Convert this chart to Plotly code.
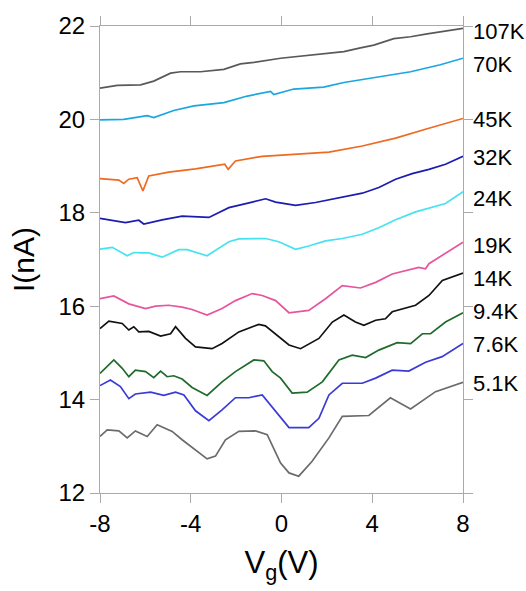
import plotly.graph_objects as go

# ---- data ----
temps = ["107K", "70K", "45K", "32K", "24K", "19K", "14K", "9.4K", "7.6K", "5.1K"]
label_y = [21.88, 21.17, 19.99, 19.18, 18.30, 17.31, 16.59, 15.89, 15.17, 14.35]

vg_107 = [-8, -7.24, -6.21, -5.63, -4.89, -4.45, -3.57, -2.54, -1.81, -1.22, -0.04, 0.54, 1.72, 2.75, 3.48, 4.07, 4.95, 5.69, 6.42, 7.16, 8]
i_107 = [20.67, 20.73, 20.74, 20.82, 20.99, 21.02, 21.02, 21.07, 21.19, 21.22, 21.31, 21.34, 21.41, 21.45, 21.53, 21.59, 21.73, 21.77, 21.83, 21.88, 21.95]

vg_70 = [-8, -6.95, -5.92, -5.63, -4.75, -3.86, -2.54, -1.51, -0.48, -0.34, 0.54, 1.86, 2.75, 4.22, 5.69, 7.0, 8]
i_70 = [19.99, 20.0, 20.08, 20.04, 20.19, 20.29, 20.36, 20.5, 20.6, 20.53, 20.65, 20.69, 20.79, 20.9, 21.02, 21.17, 21.31]

vg_45 = [-8, -7.17, -6.95, -6.73, -6.36, -6.11, -5.85, -4.97, -3.79, -2.5, -2.35, -2.03, -0.85, 0.62, 2.09, 3.56, 5.03, 6.42, 8]
i_45 = [18.73, 18.70, 18.63, 18.72, 18.75, 18.47, 18.79, 18.87, 18.94, 19.04, 18.93, 19.11, 19.21, 19.25, 19.30, 19.43, 19.60, 19.80, 20.02]

vg_32 = [-8, -6.88, -6.29, -6.07, -5.26, -4.38, -3.2, -2.32, -1.29, -0.7, -0.26, 0.62, 1.5, 2.53, 3.56, 4.29, 5.03, 5.76, 6.5, 7.23, 8]
i_32 = [17.88, 17.79, 17.84, 17.76, 17.85, 17.93, 17.90, 18.11, 18.23, 18.30, 18.23, 18.16, 18.22, 18.32, 18.42, 18.54, 18.72, 18.84, 18.93, 19.04, 19.21]

vg_24 = [-8, -7.46, -6.8, -6.51, -6.21, -5.85, -5.26, -4.53, -4.16, -3.28, -2.32, -1.88, -0.7, -0.12, 0.62, 1.2, 1.94, 2.68, 3.56, 4.29, 5.03, 5.91, 7.23, 8]
i_24 = [17.22, 17.26, 17.08, 17.15, 17.14, 17.14, 17.05, 17.21, 17.21, 17.08, 17.38, 17.44, 17.45, 17.38, 17.22, 17.29, 17.40, 17.45, 17.54, 17.68, 17.85, 18.02, 18.20, 18.45]

vg_19 = [-8, -7.39, -6.73, -5.99, -5.55, -4.97, -4.38, -3.94, -3.28, -2.62, -2.03, -1.29, -0.85, -0.26, 0.33, 1.2, 1.94, 2.68, 3.48, 4.15, 4.88, 6.05, 6.35, 6.5, 8]
i_19 = [16.16, 16.22, 16.05, 15.95, 16.0, 16.02, 15.98, 15.93, 15.81, 15.95, 16.12, 16.27, 16.23, 16.12, 15.86, 15.91, 16.16, 16.44, 16.39, 16.51, 16.69, 16.83, 16.80, 16.91, 17.37]

vg_14 = [-8, -7.61, -7.02, -6.73, -6.51, -6.29, -5.85, -5.33, -4.89, -4.67, -4.23, -3.79, -3.06, -2.62, -1.88, -1.0, -0.71, -0.12, 0.33, 0.84, 1.65, 2.24, 2.75, 3.26, 3.63, 4.15, 4.58, 4.88, 5.91, 6.5, 7.09, 8]
i_14 = [15.52, 15.68, 15.63, 15.49, 15.56, 15.45, 15.46, 15.36, 15.41, 15.56, 15.31, 15.13, 15.09, 15.20, 15.45, 15.61, 15.58, 15.35, 15.17, 15.09, 15.31, 15.66, 15.81, 15.66, 15.59, 15.70, 15.73, 15.88, 16.02, 16.23, 16.55, 16.71]

vg_94 = [-8, -7.39, -7.02, -6.73, -6.44, -5.99, -5.63, -5.33, -5.04, -4.75, -4.38, -3.94, -3.28, -2.62, -2.03, -1.22, -0.78, -0.41, -0.04, 0.47, 1.13, 1.8, 2.53, 3.12, 3.71, 4.29, 5.1, 5.69, 6.21, 6.57, 7.23, 8]
i_94 = [14.56, 14.85, 14.67, 14.49, 14.63, 14.60, 14.47, 14.61, 14.49, 14.51, 14.44, 14.26, 14.09, 14.38, 14.60, 14.85, 14.83, 14.60, 14.46, 14.14, 14.16, 14.38, 14.85, 14.95, 14.90, 15.06, 15.22, 15.20, 15.41, 15.41, 15.66, 15.86]

vg_76 = [-8, -7.54, -7.1, -6.73, -6.44, -5.77, -5.19, -4.67, -4.3, -3.79, -3.2, -2.62, -2.03, -1.44, -0.85, -0.12, 0.33, 1.2, 1.65, 2.09, 2.68, 3.56, 4.15, 4.88, 5.61, 6.35, 7.08, 8]
i_76 = [14.30, 14.42, 14.28, 14.02, 14.12, 14.16, 14.09, 14.16, 14.10, 13.76, 13.55, 13.78, 14.04, 14.04, 14.10, 13.67, 13.40, 13.40, 13.60, 14.10, 14.35, 14.35, 14.46, 14.63, 14.61, 14.80, 14.92, 15.20]

vg_51 = [-8, -7.68, -7.17, -6.8, -6.44, -5.92, -5.48, -4.82, -4.38, -3.79, -3.28, -2.91, -2.47, -1.88, -1.14, -0.63, -0.04, 0.33, 0.76, 1.35, 2.09, 2.68, 3.85, 4.8, 5.69, 6.79, 8]
i_51 = [13.21, 13.35, 13.33, 13.18, 13.33, 13.21, 13.46, 13.32, 13.14, 12.93, 12.73, 12.79, 13.14, 13.32, 13.33, 13.25, 12.64, 12.43, 12.36, 12.68, 13.18, 13.64, 13.66, 14.04, 13.80, 14.17, 14.37]

x_ticks = [-8, -4, 0, 4, 8]
y_ticks = [12, 14, 16, 18, 20, 22]

# ---- styling ----
series = [(vg_107, i_107), (vg_70, i_70), (vg_45, i_45), (vg_32, i_32), (vg_24, i_24),
          (vg_19, i_19), (vg_14, i_14), (vg_94, i_94), (vg_76, i_76), (vg_51, i_51)]
colors = ["#595959", "#1aa7e0", "#ef6a20", "#1c1caf", "#45e3f0",
          "#e6559e", "#111111", "#1f6b2b", "#3a3ad6", "#6b6b6b"]
FONT = "Liberation Sans, Arial, Helvetica, sans-serif"

fig = go.Figure()
for (xs, ys), c, t in zip(series, colors, temps):
    fig.add_trace(go.Scatter(x=xs, y=ys, mode="lines", name=t,
                             line=dict(color=c, width=1.7), showlegend=False))

for t, yv in zip(temps, label_y):
    fig.add_annotation(text=t, xref="paper", x=1, xanchor="left", xshift=8,
                       yref="y", y=yv, yanchor="middle", showarrow=False,
                       font=dict(size=22, color="black", family=FONT))

axis_common = dict(showline=True, linecolor="#aaaaaa", linewidth=1, mirror="ticks",
                   ticks="outside", ticklen=9, tickcolor="#aaaaaa", tickwidth=1,
                   showgrid=False, zeroline=False,
                   tickfont=dict(size=24, color="black", family=FONT))

fig.update_layout(
    width=526, height=591, autosize=False,
    margin=dict(l=100, r=63, t=21, b=98),
    paper_bgcolor="white", plot_bgcolor="white",
    font=dict(family=FONT, color="black"),
    xaxis=dict(range=[-8, 8], tickvals=x_ticks, ticktext=[str(v) for v in x_ticks],
               title=dict(text="V<sub>g</sub>(V)", font=dict(size=31), standoff=15),
               **axis_common),
    yaxis=dict(range=[12, 22], tickvals=y_ticks, ticktext=[str(v) for v in y_ticks],
               title=dict(text="I(nA)", font=dict(size=30), standoff=14),
               **axis_common),
)

fig.write_html("out.html", config={"displayModeBar": False},
               post_script="document.body.style.margin='0px';")
